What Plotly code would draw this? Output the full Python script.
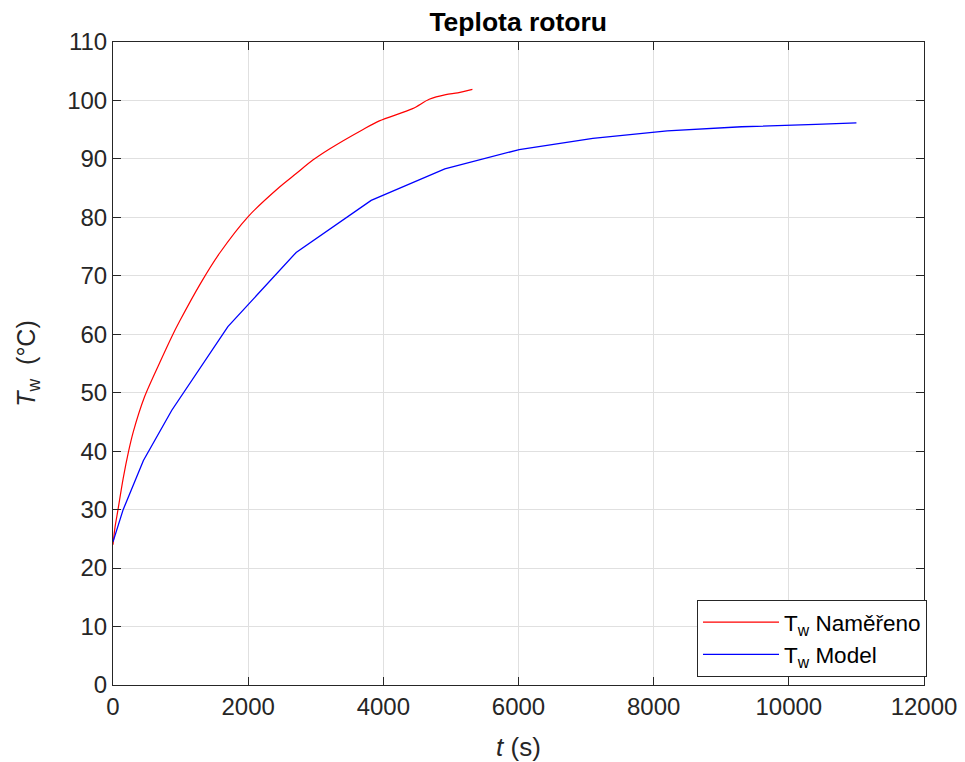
import plotly.graph_objects as go

# Measured rotor temperature (red)
t_measured = [0, 30, 74, 150, 231, 300, 467, 694, 866, 989, 1300, 1579, 1997,
              2465, 2711, 2957, 3203, 3694, 3941, 4433, 4679, 4925, 5100, 5318]
T_measured = [24.0, 27.0, 30.0, 35.3, 40.0, 43.3, 49.3, 55.2, 59.5, 62.3, 68.8, 73.9, 80.1,
              85.2, 87.5, 89.8, 91.7, 95.0, 96.5, 98.6, 100.2, 101.0, 101.3, 101.9]

# Model rotor temperature (blue)
t_model = [0, 150, 450, 870, 1700, 2710, 3820, 4910, 6010, 7100, 8200, 9300, 10400, 11000]
T_model = [24.5, 30.0, 38.4, 47.0, 61.3, 74.0, 82.9, 88.3, 91.6, 93.5, 94.8, 95.5, 95.9, 96.15]

title_text = "Teplota rotoru"
name_measured = "T<sub>w</sub> Naměřeno"
name_model = "T<sub>w</sub> Model"

FONT = "Liberation Sans, Arial, Helvetica, sans-serif"
AX = "#262626"
GRID = "#e0e0e0"

fig = go.Figure()
fig.add_trace(go.Scatter(x=t_measured, y=T_measured, mode="lines", name=name_measured,
                         line=dict(color="#ff0000", width=1.2, shape="spline", smoothing=0.8)))
fig.add_trace(go.Scatter(x=t_model, y=T_model, mode="lines", name=name_model,
                         line=dict(color="#0000ff", width=1.3)))

axis_common = dict(
    showline=True, linecolor=AX, linewidth=1, mirror="ticks",
    ticks="inside", ticklen=8, tickcolor=AX, tickwidth=1,
    showgrid=True, gridcolor=GRID, gridwidth=1, zeroline=False,
    tickfont=dict(family=FONT, size=24, color=AX), automargin=False,
)

fig.update_xaxes(range=[0, 12000], dtick=2000, tick0=0, tickformat="d",
                 title=dict(text="<i>t</i> (s)", font=dict(family=FONT, size=26, color=AX), standoff=19),
                 **axis_common)
fig.update_yaxes(range=[0, 110], dtick=10, tick0=0,
                 title=dict(text="<i>T</i><sub>w</sub>  (°C)", font=dict(family=FONT, size=25, color=AX), standoff=24),
                 **axis_common)

fig.update_layout(
    width=965, height=762,
    margin=dict(l=113, r=41, t=42, b=77, autoexpand=False),
    paper_bgcolor="white", plot_bgcolor="white",
    title=dict(text="<b>" + title_text + "</b>", x=0.537, xanchor="center", y=0.971, yanchor="middle",
               font=dict(family=FONT, size=26.5, color="black")),
    legend=dict(x=1.0037, y=0.0124, xanchor="right", yanchor="bottom",
                bordercolor=AX, borderwidth=1, bgcolor="white",
                font=dict(family=FONT, size=22.5, color="black"),
                itemwidth=76, tracegroupgap=0),
    showlegend=True,
)

fig.write_html("out.html", config={"displayModeBar": False},
               post_script="document.body.style.margin='0';document.body.style.overflow='hidden';")
